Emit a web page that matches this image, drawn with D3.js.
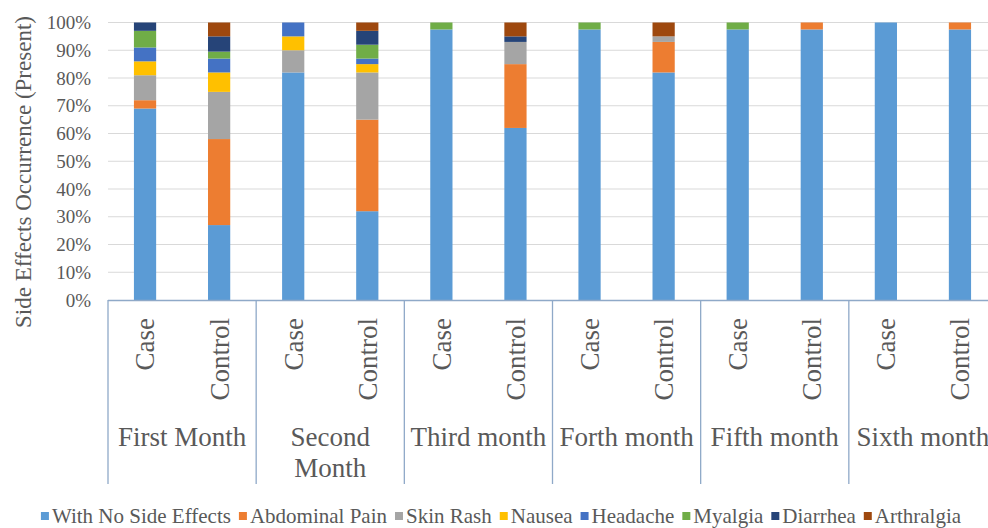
<!DOCTYPE html>
<html>
<head>
<meta charset="utf-8">
<script src="https://cdn.jsdelivr.net/npm/d3@7"></script>
<style>
  body { margin: 0; background: #fff; }
  svg text { font-family: "Times New Roman", "Liberation Serif", Times, "DejaVu Serif", serif; }
</style>
</head>
<body>
<svg id="chart" width="988" height="528"></svg>
<script>
// data (percent of patients)
var months = ["First Month", "Second Month", "Third month", "Forth month", "Fifth month", "Sixth month"];
var groups = ["Case", "Control"];
var yTicks = [0, 10, 20, 30, 40, 50, 60, 70, 80, 90, 100];

var seriesNames = ["With No Side Effects", "Abdominal Pain", "Skin Rash", "Nausea", "Headache", "Myalgia", "Diarrhea", "Arthralgia"];
var seriesColors = ["#5b9bd5", "#ed7d31", "#a5a5a5", "#ffc000", "#4472c4", "#70ad47", "#264478", "#9e480e"];

// order: month1 case, month1 control, month2 case, ...
var noSideEffects = [69, 27, 82, 32, 97.5, 62, 97.5, 82, 97.5, 97.5, 100, 97.5];
var abdominalPain = [3, 31, 0, 33, 0, 23, 0, 11, 0, 2.5, 0, 2.5];
var skinRash      = [9, 17, 8, 17, 0, 8, 0, 2, 0, 0, 0, 0];
var nausea        = [5, 7, 5, 3, 0, 0, 0, 0, 0, 0, 0, 0];
var headache      = [5, 5, 5, 2, 0, 0, 0, 0, 0, 0, 0, 0];
var myalgia       = [6, 2.5, 0, 5, 2.5, 0, 2.5, 0, 2.5, 0, 0, 0];
var diarrhea      = [3, 5.5, 0, 5, 0, 2, 0, 0, 0, 0, 0, 0];
var arthralgia    = [0, 5, 0, 3, 0, 5, 0, 5, 0, 0, 0, 0];

var allSeries = [noSideEffects, abdominalPain, skinRash, nausea, headache, myalgia, diarrhea, arthralgia];

// build rows for d3.stack
var rows = [];
months.forEach(function(m, i) {
    groups.forEach(function(g, j) {
        var k = i * 2 + j;
        var row = { id: m + "|" + g, month: m, group: g };
        seriesNames.forEach(function(s, si) { row[s] = allSeries[si][k]; });
        rows.push(row);
    });
});

var svg = d3.select("#chart");
var textColor = "#595959";
var axisColor = "#8fa9c8";

var plotLeft = 108, plotRight = 997, plotTop = 22.5, plotBottom = 300;

var x = d3.scaleBand()
    .domain(rows.map(function(d) { return d.id; }))
    .range([plotLeft, plotRight])
    .paddingInner(0.7)
    .paddingOuter(0.35);

var xMonth = d3.scaleBand()
    .domain(months)
    .range([plotLeft, plotRight]);

var y = d3.scaleLinear()
    .domain([0, 100])
    .range([plotBottom, plotTop]);

// gridlines
svg.append("g")
    .selectAll("line")
    .data(yTicks.filter(function(t) { return t > 0; }))
    .enter()
    .append("line")
    .attr("x1", plotLeft)
    .attr("x2", 988)
    .attr("y1", function(d) { return y(d); })
    .attr("y2", function(d) { return y(d); })
    .attr("stroke", "#d9d9d9")
    .attr("stroke-width", 1);

// y tick labels
svg.append("g")
    .selectAll("text")
    .data(yTicks)
    .enter()
    .append("text")
    .attr("x", 91)
    .attr("y", function(d) { return y(d); })
    .attr("dy", "0.35em")
    .attr("text-anchor", "end")
    .attr("font-size", 19)
    .attr("fill", textColor)
    .text(function(d) { return d + "%"; });

// y axis title
svg.append("text")
    .attr("transform", "translate(23,172) rotate(-90)")
    .attr("text-anchor", "middle")
    .attr("dy", "0.35em")
    .attr("font-size", 23)
    .attr("fill", textColor)
    .text("Side Effects Occurrence (Present)");

// stacked bars
var stack = d3.stack().keys(seriesNames);
var layers = stack(rows);

svg.append("g")
    .selectAll("g")
    .data(layers)
    .enter()
    .append("g")
    .attr("fill", function(d, i) { return seriesColors[i]; })
    .selectAll("rect")
    .data(function(d) { return d; })
    .enter()
    .append("rect")
    .attr("x", function(d) { return x(d.data.id); })
    .attr("width", x.bandwidth())
    .attr("y", function(d) { return y(d[1]); })
    .attr("height", function(d) { return y(d[0]) - y(d[1]); });

// x axis line + group dividers
svg.append("line")
    .attr("x1", plotLeft)
    .attr("x2", 988)
    .attr("y1", plotBottom + 0.5)
    .attr("y2", plotBottom + 0.5)
    .attr("stroke", axisColor)
    .attr("stroke-width", 1.3);

svg.append("g")
    .selectAll("line")
    .data(months)
    .enter()
    .append("line")
    .attr("x1", function(d) { return xMonth(d); })
    .attr("x2", function(d) { return xMonth(d); })
    .attr("y1", plotBottom)
    .attr("y2", 484)
    .attr("stroke", axisColor)
    .attr("stroke-width", 1.3);

// case / control labels
svg.append("g")
    .selectAll("text")
    .data(rows)
    .enter()
    .append("text")
    .attr("transform", function(d) {
        return "translate(" + (x(d.id) + x.bandwidth() / 2) + ",318) rotate(-90)";
    })
    .attr("text-anchor", "end")
    .attr("dy", "0.35em")
    .attr("font-size", 27)
    .attr("fill", textColor)
    .text(function(d) { return d.group; });

// month labels (Second Month wraps)
var monthLabels = svg.append("g")
    .selectAll("text")
    .data(months)
    .enter()
    .append("text")
    .attr("text-anchor", "middle")
    .attr("font-size", 27)
    .attr("fill", textColor);

monthLabels.each(function(d) {
    var t = d3.select(this);
    var cx = xMonth(d) + xMonth.bandwidth() / 2;
    var lines = d == "Second Month" ? ["Second", "Month"] : [d];
    lines.forEach(function(l, i) {
        t.append("tspan")
            .attr("x", cx)
            .attr("y", 446 + i * 31)
            .text(l);
    });
});

// legend
var legend = svg.append("g");
var lx = 0;
seriesNames.forEach(function(s, i) {
    var item = legend.append("g").attr("transform", "translate(" + lx + ",0)");
    item.append("rect")
        .attr("x", 0)
        .attr("y", -4)
        .attr("width", 8)
        .attr("height", 8)
        .attr("fill", seriesColors[i]);
    var t = item.append("text")
        .attr("x", 11)
        .attr("dy", "0.35em")
        .attr("font-size", 21)
        .attr("fill", textColor)
        .text(s);
    lx += 11 + t.node().getComputedTextLength() + 8;
});
legend.attr("transform", "translate(" + (501 - (lx - 8) / 2) + ",516)");
</script>
</body>
</html>
